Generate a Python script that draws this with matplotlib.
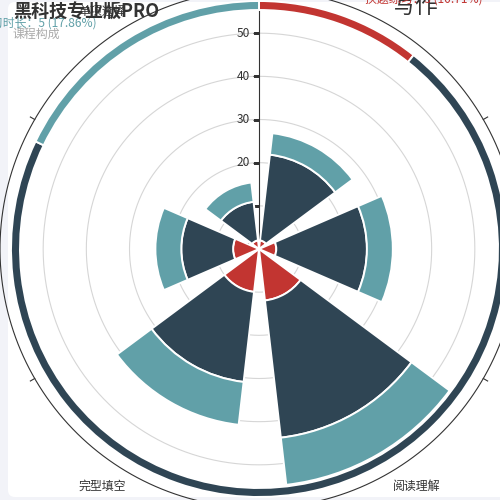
import numpy as np
import matplotlib.pyplot as plt
from matplotlib.patches import FancyBboxPatch
from matplotlib.transforms import offset_copy

plt.rcParams['font.family'] = ['Noto Sans CJK SC', 'DejaVu Sans']

# angle axis categories (clockwise from top)
categories = ['写作', '听力', '阅读理解', '完型填空', '词汇语法', '单项选择']
label_sizes = [16.5, 8.6, 8.6, 8.6, 8.6, 8.6]

# stacked bar series
red_vals = [2, 4, 12, 10, 6, 2]
dark_vals = [20, 21, 32, 21, 12, 9]
teal_vals = [5, 6, 11, 10, 6, 4.5]

# outer ring (pie)
pie_names = ['换题练习', '课程讲解', '学习时长']
pie_vals = [3, 20, 5]

radius_ticks = [0, 10, 20, 30, 40, 50]
r_max = 60

colors = ['#c23531', '#2f4554', '#61a0a8']

fig = plt.figure(figsize=(5, 5), dpi=100)
fig.patch.set_facecolor('#f2f3f8')
panel = FancyBboxPatch((0.016, 0.006), 1.1, 0.99,
                       boxstyle='round,pad=0,rounding_size=0.014',
                       transform=fig.transFigure, fc='white', ec='none',
                       zorder=-10)
fig.patches.append(panel)

ax = fig.add_axes([0.0, -0.016, 1.036, 1.036], projection='polar')
ax.set_theta_zero_location('N')
ax.set_theta_direction(-1)
ax.set_ylim(0, r_max)
ax.axis('off')

px = r_max / 259.0  # data units per pixel

n = len(categories)
step = 2 * np.pi / n
theta = np.arange(n) * step + step / 2
width = step * 0.78

# split circles
t = np.linspace(0, 2 * np.pi, 721)
for v in radius_ticks[1:]:
    ax.plot(t, np.full_like(t, v), color='#d6d6d6', lw=0.8, zorder=1)

# angle axis line + ticks
ring_line, = ax.plot(t, np.full_like(t, r_max), color='#333333', lw=0.8,
                     zorder=1, clip_on=False)
ring_line.set_clip_path(panel)
for k in range(n):
    a = k * step
    tk, = ax.plot([a, a], [r_max, r_max + 5 * px], color='#333333', lw=0.8,
                  clip_on=False)
    tk.set_clip_path(panel)

# radius axis
ax.plot([0, 0], [0, r_max], color='#333333', lw=0.8, zorder=1, clip_on=False)
ax.plot(np.zeros(len(radius_ticks)), radius_ticks, ls='none', marker=0, ms=4,
        mew=0.8, color='#333333', zorder=1)
lab_tr = offset_copy(ax.transData, fig=fig, x=-9, y=0, units='dots')
for v in radius_ticks:
    ax.text(0, v, str(v), transform=lab_tr, ha='right', va='center',
            fontsize=8.6, color='#333333', zorder=1)

# stacked polar bars
bottom = np.zeros(n)
for vals, c in zip([red_vals, dark_vals, teal_vals], colors):
    vals = np.array(vals, dtype=float)
    ax.bar(theta, vals, width=width, bottom=bottom, color=c,
           edgecolor='white', linewidth=1.4, zorder=3)
    bottom = bottom + vals

# outer ring
pv = np.array(pie_vals, dtype=float)
total = pv.sum()
pw = pv / total * 2 * np.pi
pstart = np.concatenate([[0], np.cumsum(pw)[:-1]])
ring_in, ring_out = 239 * px, 248 * px
ax.bar(pstart + pw / 2, ring_out - ring_in, width=pw, bottom=ring_in,
       color=colors, edgecolor='white', linewidth=1.4, zorder=3, clip_on=False)

# angle labels
for k, name in enumerate(categories):
    a = theta[k]
    s, c = np.sin(a), np.cos(a)
    ha = 'left' if s > 0.01 else ('right' if s < -0.01 else 'center')
    va = 'bottom' if c > 0.01 else ('top' if c < -0.01 else 'center')
    ax.text(a, r_max + 8 * px, name, ha=ha, va=va, fontsize=label_sizes[k],
            color='#333333', clip_on=False, zorder=4)

# ring labels
lab = [f'{nm}：{v:g} ({v / total * 100:.2f}%)' for nm, v in zip(pie_names, pv)]
fig.text(365 / 500, 1 + 1 / 500, lab[0], ha='left', va='center',
         fontsize=8.6, color=colors[0])
fig.text(97 / 500, 1 - 23 / 500, lab[2], ha='right', va='center',
         fontsize=8.6, color=colors[2])

fig.text(13 / 500, 1 - 3 / 500, '黑科技专业版PRO', fontsize=13, fontweight='bold',
         color='#333333', va='top')
fig.text(13 / 500, 1 - 28 / 500, '课程构成', fontsize=8.6, color='#aaaaaa', va='top')

fig.savefig('out.png', dpi=100)
